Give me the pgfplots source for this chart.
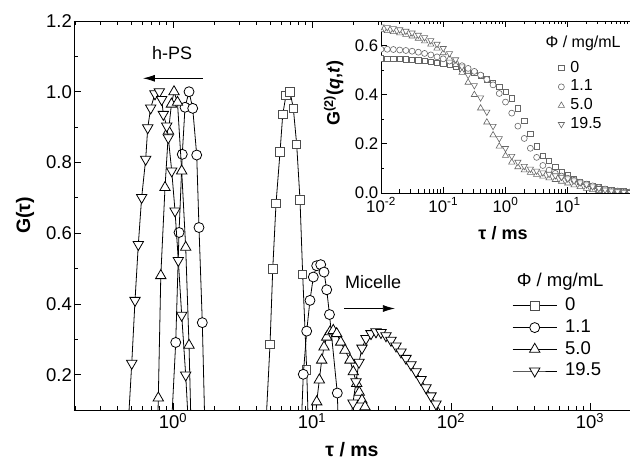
\documentclass[border=0pt]{standalone}
\usepackage{fontspec}
\setmainfont{Liberation Sans}
\usepackage{pgfplots}
\usepackage{pgfplotstable}
\pgfplotsset{compat=1.18}
\usetikzlibrary{arrows.meta}

% inset: G2(q,t) vs tau (ms), one column per concentration
\pgfplotstableread{
t       g0     g11    g50    g195
0.01    0.548  0.585  0.664  0.677
0.0126  0.547  0.585  0.660  0.674
0.0158  0.546  0.584  0.656  0.670
0.02    0.545  0.582  0.651  0.665
0.0251  0.544  0.580  0.645  0.659
0.0316  0.543  0.577  0.638  0.652
0.0398  0.540  0.573  0.629  0.643
0.0501  0.537  0.568  0.618  0.633
0.0631  0.533  0.562  0.605  0.621
0.0794  0.530  0.554  0.589  0.606
0.1     0.528  0.546  0.570  0.589
0.126   0.521  0.537  0.548  0.568
0.158   0.514  0.528  0.522  0.543
0.2     0.506  0.518  0.490  0.514
0.251   0.498  0.507  0.450  0.480
0.316   0.488  0.495  0.400  0.438
0.398   0.478  0.480  0.345  0.388
0.501   0.463  0.462  0.288  0.330
0.631   0.450  0.440  0.236  0.272
0.794   0.433  0.405  0.190  0.222
1       0.413  0.370  0.152  0.182
1.26    0.385  0.325  0.125  0.150
1.58    0.345  0.272  0.106  0.126
2       0.295  0.222  0.093  0.109
2.51    0.242  0.182  0.083  0.098
3.16    0.190  0.145  0.075  0.090
3.98    0.153  0.112  0.068  0.083
5.01    0.130  0.093  0.061  0.077
6.31    0.107  0.080  0.054  0.071
7.94    0.087  0.069  0.047  0.065
10      0.072  0.060  0.040  0.058
12.6    0.058  0.052  0.032  0.050
15.8    0.047  0.044  0.025  0.042
20      0.037  0.036  0.018  0.034
25.1    0.030  0.029  0.013  0.026
31.6    0.023  0.022  0.009  0.019
39.8    0.018  0.016  0.006  0.013
50.1    0.014  0.011  0.004  0.009
63.1    0.010  0.008  0.003  0.006
79.4    0.008  0.006  0.002  0.004
100     0.006  0.004  0.001  0.003
}\insetdata

\begin{document}
\begin{tikzpicture}
\path[use as bounding box] (0,0) rectangle (630pt,461pt);

\begin{axis}[at={(74pt,51pt)},anchor=south west,scale only axis,
  width=556pt,height=389pt,
  xmode=log,xmin=0.194,xmax=1941,ymin=0.1,ymax=1.2,
  axis x line*=box,axis y line*=left,
  axis line style={line width=0.9pt},
  tick align=inside,major tick length=7pt,minor tick length=4pt,
  tick style={black,line width=0.8pt},
  xtick={1,10,100,1000},
  xticklabels={10\textsuperscript{0},10\textsuperscript{1},10\textsuperscript{2},10\textsuperscript{3}},
  minor xtick={0.2,0.3,0.4,0.5,0.6,0.7,0.8,0.9,2,3,4,5,6,7,8,9,20,30,40,50,60,70,80,90,200,300,400,500,600,700,800,900},
  ytick={0.2,0.4,0.6,0.8,1.0,1.2},
  yticklabels={0.2,0.4,0.6,0.8,1.0,1.2},
  minor ytick={0.1,0.3,0.5,0.7,0.9,1.1},
  tick label style={font=\fontsize{18.5}{22}\selectfont},
  yticklabel style={inner sep=2pt},
  xlabel={\bfseries τ / ms},ylabel={\bfseries G(τ)},
  label style={font=\fontsize{19.5}{23}\selectfont},
  xlabel style={at={(axis description cs:0.5,-0.103)},anchor=center},
  ylabel style={at={(axis description cs:-0.088,0.5)},anchor=center},
  clip marker paths=true,
  legend style={at={(axis description cs:0.788,0.29)},anchor=north west,
    draw=none,fill=none,inner sep=0pt,row sep=4.7pt,
    font=\fontsize{18.5}{22}\selectfont,
    nodes={inner sep=0pt,text height=13.5pt,text depth=3.5pt},
    /tikz/every odd column/.append style={column sep=8pt}},
  legend cell align=left,
  legend image code/.code={\draw[mark repeat=2,mark phase=2,#1] plot coordinates {(0pt,0pt) (22pt,0pt) (44pt,0pt)};},
]
\addplot[black,line width=0.8pt,mark=square*,mark size=4.2pt,
  mark options={fill=white,draw=black!70,line width=0.8pt}] coordinates {
(4.58,0) (4.99,0.286) (5.22,0.499) (5.51,0.684) (5.89,0.830) (6.16,0.936)
(6.50,0.990) (6.95,1.000) (7.34,0.953) (7.76,0.851) (8.20,0.694) (8.57,0.483)
(9.16,0.213) (9.51,0)};
\addlegendentry{0}
\addplot[black,line width=0.8pt,mark=*,mark size=5pt,
  mark options={fill=white,draw=black,line width=0.8pt}] coordinates {
(0.959,0) (1.046,0.291) (1.105,0.602) (1.166,0.823) (1.220,0.956) (1.304,1.000)
(1.386,0.953) (1.481,0.821) (1.538,0.616) (1.625,0.347) (1.708,0)
(8.27,0) (8.66,0.201) (9.16,0.323) (9.67,0.410) (10.22,0.476) (10.81,0.508)
(11.55,0.511) (12.20,0.490) (12.76,0.440) (13.36,0.370) (15.21,0.148) (15.64,0)};
\addlegendentry{1.1}
\addplot[black,line width=0.8pt,mark=triangle*,mark size=6pt,
  mark options={fill=white,draw=black,line width=0.8pt}] coordinates {
(0.771,0) (0.784,0.134) (0.817,0.480) (0.876,0.729) (0.928,0.889) (0.975,0.965)
(1.017,1.000) (1.077,0.970) (1.155,0.776) (1.234,0.560) (1.304,0.283) (1.359,0)
(10.34,0) (10.81,0.123) (11.29,0.185) (11.74,0.241) (12.20,0.278) (12.76,0.306)
(13.48,0.321) (14.23,0.325) (15.06,0.316) (16.09,0.292) (17.28,0.269) (18.77,0.241)
(19.82,0.208) (20.97,0.175) (21.89,0.150) (22.89,0.128) (24.06,0.109) (26.58,0)};
\addlegendentry{5.0}
\addplot[black,line width=0.8pt,mark=triangle*,mark size=6pt,
  mark options={fill=white,draw=black,line width=0.8pt,rotate=180}] coordinates {
(0.467,0) (0.505,0.232) (0.533,0.410) (0.563,0.568) (0.595,0.701) (0.636,0.809)
(0.658,0.898) (0.691,0.954) (0.742,0.994) (0.797,1.000) (0.829,0.978) (0.852,0.936)
(0.901,0.903) (0.925,0.870) (0.979,0.776) (1.034,0.663) (1.092,0.523) (1.155,0.368)
(1.234,0.199) (1.314,0)
(17.86,0) (19.72,0.120) (20.73,0.180) (21.78,0.235) (22.89,0.275) (24.46,0.302)
(26.58,0.316) (28.87,0.321) (31.36,0.319) (34.07,0.310) (37.01,0.297) (40.21,0.281)
(43.69,0.264) (47.46,0.246) (51.55,0.228) (56.01,0.208) (60.84,0.186) (66.09,0.163)
(71.80,0.140) (78.00,0.117) (84.74,0.095) (92.04,0.075)};
\addlegendentry{19.5}

\node[anchor=west,font=\fontsize{18.5}{22}\selectfont] at (axis description cs:0.790,0.329) {Φ / mg/mL};
\node[font=\fontsize{18}{22}\selectfont] at (axis cs:0.984,1.108) {h-PS};
\draw[-{Latex[length=12pt,width=7pt]},line width=0.8pt] (axis cs:1.643,1.038) -- (axis cs:0.608,1.038);
\node[font=\fontsize{18}{22}\selectfont] at (axis cs:27.5,0.461) {Micelle};
\draw[-{Latex[length=12pt,width=7pt]},line width=0.8pt] (axis cs:17.0,0.387) -- (axis cs:39.5,0.387);
\end{axis}

\begin{axis}[at={(381pt,268pt)},anchor=south west,scale only axis,
  width=249pt,height=172pt,
  axis background/.style={fill=white},
  xmode=log,xmin=0.01,xmax=100,ymin=0,ymax=0.7,
  axis x line*=box,axis y line*=left,
  axis line style={line width=0.9pt},
  tick align=inside,major tick length=6pt,minor tick length=3.5pt,
  tick style={black,line width=0.8pt},
  xtick={0.01,0.1,1,10},
  xticklabels={10\textsuperscript{-2},10\textsuperscript{-1},10\textsuperscript{0},10\textsuperscript{1}},
  minor xtick={0.02,0.03,0.04,0.05,0.06,0.07,0.08,0.09,0.2,0.3,0.4,0.5,0.6,0.7,0.8,0.9,2,3,4,5,6,7,8,9,20,30,40,50,60,70,80,90},
  ytick={0,0.2,0.4,0.6},yticklabels={0.0,0.2,0.4,0.6},
  minor ytick={0.1,0.3,0.5},
  tick label style={font=\fontsize{16.8}{20}\selectfont},
  xticklabel style={inner sep=0pt,yshift=-4.5pt},
  yticklabel style={inner sep=0pt,xshift=-2.5pt},
  xlabel={\bfseries τ / ms},
  ylabel={\bfseries G\textsuperscript{(2)}(\textit{q},\textit{t})},
  label style={font=\fontsize{18}{22}\selectfont},
  xlabel style={at={(axis description cs:0.49,-0.233)},anchor=center},
  ylabel style={at={(axis description cs:-0.19,0.58)},anchor=center},
  clip marker paths=true,
  legend style={at={(axis description cs:0.711,0.77)},anchor=north west,
    draw=none,fill=none,inner sep=0pt,row sep=3.9pt,
    font=\fontsize{16}{19}\selectfont,
    nodes={inner sep=0pt,text height=11.5pt,text depth=3.3pt},
    /tikz/every odd column/.append style={column sep=6pt}},
  legend cell align=left,
  legend image code/.code={\draw[mark repeat=2,mark phase=2,#1] plot coordinates {(0pt,0pt) (4pt,0pt) (8pt,0pt)};},
]
\addplot[only marks,mark=square*,mark size=2.6pt,
  mark options={fill=white,draw=black!60,line width=0.6pt}] table[x=t,y=g0] {\insetdata};
\addlegendentry{0}
\addplot[only marks,mark=*,mark size=3pt,
  mark options={fill=white,draw=black!60,line width=0.6pt}] table[x=t,y=g11] {\insetdata};
\addlegendentry{1.1}
\addplot[only marks,mark=triangle*,mark size=3.6pt,
  mark options={fill=white,draw=black!60,line width=0.6pt}] table[x=t,y=g50] {\insetdata};
\addlegendentry{5.0}
\addplot[only marks,mark=triangle*,mark size=3.6pt,
  mark options={fill=white,draw=black!60,line width=0.6pt,rotate=180}] table[x=t,y=g195] {\insetdata};
\addlegendentry{19.5}
\node[anchor=west,font=\fontsize{16}{19}\selectfont] at (axis description cs:0.647,0.872) {Φ / mg/mL};
\end{axis}
\end{tikzpicture}
\end{document}
